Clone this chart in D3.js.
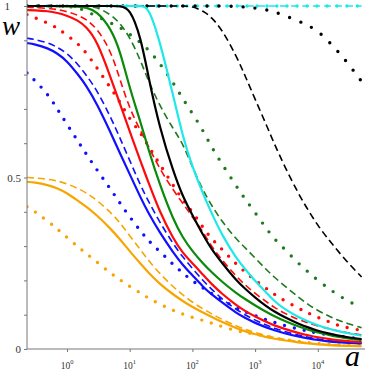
<!DOCTYPE html>
<html><head><meta charset="utf-8">
<script src="https://cdn.jsdelivr.net/npm/d3@7"></script>
<style>body{margin:0;background:#fff}svg{display:block}</style>
</head><body><svg id="c" width="365" height="374"></svg>
<script>
const aGrid = [0.23,0.3,0.5,0.7,1,1.5,2,3,5,7,10,15,20,30,50,70,100,150,200,300,500,700,1000,1500,2000,3000,5000,7000,10000,15000,20000,30000,50000];

const orangeSolid  = [0.487,0.486,0.478,0.469,0.455,0.432,0.416,0.39,0.35,0.32,0.285,0.248,0.222,0.19,0.158,0.14,0.122,0.106,0.094,0.078,0.061,0.051,0.043,0.035,0.03,0.025,0.019,0.016,0.013,0.011,0.01,0.009,0.008];
const orangeDashed = [0.5,0.499,0.495,0.49,0.482,0.468,0.456,0.434,0.398,0.368,0.33,0.288,0.258,0.22,0.18,0.158,0.136,0.116,0.103,0.086,0.067,0.057,0.048,0.039,0.034,0.028,0.021,0.018,0.015,0.013,0.012,0.01,0.009];
const orangeDotted = [0.415,0.402,0.372,0.35,0.325,0.298,0.279,0.254,0.22,0.202,0.182,0.163,0.148,0.131,0.112,0.102,0.092,0.083,0.076,0.065,0.053,0.048,0.044,0.037,0.032,0.027,0.022,0.019,0.016,0.014,0.013,0.011,0.01];

const blueSolid  = [0.892,0.889,0.877,0.862,0.84,0.8,0.77,0.715,0.63,0.57,0.51,0.44,0.395,0.34,0.28,0.245,0.215,0.18,0.16,0.135,0.105,0.09,0.076,0.063,0.055,0.045,0.036,0.031,0.026,0.022,0.02,0.018,0.016];
const blueDashed = [0.906,0.903,0.893,0.88,0.862,0.83,0.8,0.755,0.675,0.615,0.55,0.475,0.43,0.37,0.305,0.268,0.235,0.198,0.175,0.145,0.115,0.099,0.084,0.07,0.061,0.05,0.04,0.034,0.029,0.024,0.022,0.019,0.017];
const blueDotted = [0.805,0.785,0.742,0.7,0.655,0.605,0.57,0.522,0.465,0.425,0.385,0.343,0.315,0.285,0.245,0.222,0.198,0.177,0.162,0.143,0.12,0.108,0.097,0.085,0.078,0.068,0.058,0.052,0.046,0.041,0.038,0.034,0.03];

const redSolid  = [0.988,0.988,0.985,0.98,0.972,0.958,0.94,0.9,0.79,0.715,0.635,0.545,0.485,0.4,0.32,0.28,0.25,0.215,0.19,0.16,0.128,0.11,0.095,0.079,0.069,0.058,0.046,0.04,0.034,0.029,0.026,0.023,0.02];
const redDashed = [0.997,0.996,0.993,0.99,0.984,0.973,0.962,0.935,0.87,0.785,0.7,0.635,0.59,0.525,0.462,0.425,0.385,0.34,0.3,0.258,0.212,0.186,0.162,0.138,0.122,0.103,0.085,0.076,0.067,0.059,0.053,0.047,0.041];
const redDotted = [0.975,0.967,0.95,0.936,0.915,0.89,0.865,0.82,0.76,0.72,0.67,0.63,0.59,0.54,0.475,0.435,0.4,0.352,0.322,0.29,0.247,0.224,0.2,0.177,0.16,0.14,0.118,0.105,0.092,0.08,0.07,0.062,0.054];

const greenSolid  = [1,1,1,1,0.999,0.998,0.996,0.985,0.935,0.87,0.76,0.66,0.58,0.48,0.375,0.325,0.285,0.248,0.225,0.195,0.163,0.145,0.127,0.108,0.096,0.081,0.065,0.056,0.048,0.041,0.036,0.031,0.026];
const greenDashed = [1,1,1,1,1,1,1,0.997,0.975,0.95,0.91,0.84,0.78,0.71,0.64,0.6,0.53,0.46,0.42,0.37,0.32,0.295,0.265,0.232,0.21,0.183,0.15,0.13,0.112,0.096,0.085,0.074,0.062];
const greenDotted = [1,1,1,1,0.999,0.995,0.985,0.97,0.95,0.938,0.918,0.893,0.872,0.834,0.775,0.73,0.687,0.635,0.59,0.538,0.475,0.436,0.398,0.352,0.322,0.29,0.248,0.225,0.2,0.176,0.16,0.14,0.12];

const blackSolid  = [1,1,1,1,1,1,1,1,1,1,0.995,0.91,0.79,0.645,0.515,0.445,0.39,0.33,0.292,0.25,0.2,0.175,0.15,0.125,0.11,0.092,0.073,0.063,0.053,0.045,0.04,0.034,0.029];
const blackDashed = [1,1,1,1,1,1,1,1,1,1,1,1,1,1,1,1,0.999,0.985,0.968,0.93,0.855,0.795,0.728,0.655,0.6,0.53,0.45,0.405,0.36,0.318,0.29,0.252,0.21];
const blackDotted = [1,1,1,1,1,1,1,1,1,1,1,1,1,1,1,1,1,1,1,1,0.999,0.997,0.994,0.989,0.983,0.972,0.956,0.943,0.928,0.896,0.872,0.834,0.78];

const cyanSolid  = [1,1,1,1,1,1,1,1,1,1,1,1,0.998,0.9,0.735,0.62,0.53,0.45,0.398,0.33,0.265,0.232,0.198,0.165,0.14,0.115,0.092,0.08,0.069,0.059,0.053,0.046,0.039];
const cyanDashed = [1,1,1,1,1,1,1,1,1,1,1,1,1,1,1,1,1,1,1,1,1,1,1,1,1,1,1,1,1,1,1,1,1];
const cyanDotted = [1,1,1,1,1,1,1,1,1,1,1,1,1,1,1,1,1,1,1,1,1,1,1,1,1,1,1,1,1,1,1,1,1];

const xTicks = [1,10,100,1000,10000];
const xTickExps = ["0","1","2","3","4"];
const yTicks = [0,0.1,0.2,0.3,0.4,0.5,0.6,0.7,0.8,0.9,1];
const yLabelled = {"0":"0","0.5":"0.5","1":"1"};

const ORANGE="#f7a500", BLUE="#1010ff", RED="#ff0a0a", GREEN="#0a8a0a", BLACK="#000", CYAN="#1ee8e8";
const series = [
  {v:cyanDotted, c:CYAN, s:"dotted"},
  {v:cyanDashed, c:CYAN, s:"dashed"},
  {v:blackDotted, c:BLACK, s:"dotted", gap:12},
  {v:blackDashed, c:BLACK, s:"dashed"},
  {v:orangeDotted, c:ORANGE, s:"dotted"},
  {v:orangeDashed, c:ORANGE, s:"dashed"},
  {v:orangeSolid, c:ORANGE, s:"solid"},
  {v:blueDotted, c:BLUE, s:"dotted"},
  {v:blueDashed, c:BLUE, s:"dashed"},
  {v:blueSolid, c:BLUE, s:"solid"},
  {v:redDotted, c:RED, s:"dotted"},
  {v:redDashed, c:RED, s:"dashed"},
  {v:redSolid, c:RED, s:"solid"},
  {v:greenDotted, c:"#1f7a1f", s:"dotted", gap:11},
  {v:greenDashed, c:"#1f7a1f", s:"dashed"},
  {v:greenSolid, c:GREEN, s:"solid"},
  {v:cyanSolid, c:CYAN, s:"solid"},
  {v:blackSolid, c:BLACK, s:"solid"}
];

const svg = d3.select("#c");
svg.append("rect").attr("width",365).attr("height",374).attr("fill","#fff");
const x = d3.scaleLog().domain([0.23,56000]).range([27,364.7]);
const y = d3.scaleLinear().domain([0,1]).range([349,6]);

svg.append("clipPath").attr("id","clip").append("rect").attr("x",27).attr("y",0).attr("width",340).attr("height",349);

const line = d3.line().x((d,i)=>x(aGrid[i])).y(d=>y(d)).curve(d3.curveBasis);
const g = svg.append("g").attr("clip-path","url(#clip)");
series.forEach(sr=>{
  const p = g.append("path").attr("d",line(sr.v)).attr("fill","none").attr("stroke",sr.c);
  if(sr.s==="solid") p.attr("stroke-width",2.2);
  else if(sr.s==="dashed") p.attr("stroke-width",1.6).attr("stroke-dasharray","7,4");
  else p.attr("stroke-width",3.4).attr("stroke-linecap","round").attr("stroke-dasharray","0,"+(sr.gap||10));
});

// axes
const yAxis = svg.append("g").attr("transform","translate(27,0)")
  .call(d3.axisLeft(y).tickValues(yTicks).tickSize(3).tickPadding(3)
    .tickFormat(d=>yLabelled[String(+d.toFixed(1))]||""));
const xAxis = svg.append("g").attr("transform","translate(0,349)")
  .call(d3.axisBottom(x).tickValues(xTicks).tickSize(3).tickFormat(""));
[yAxis,xAxis].forEach(ax=>{
  ax.select(".domain").attr("stroke","#777").attr("stroke-width",1);
  ax.selectAll(".tick line").attr("stroke","#777");
  ax.selectAll("text").attr("font-family","Liberation Serif").attr("font-size",11).attr("fill","#333");
});
yAxis.select(".domain").attr("d","M-0,349V0");
xAxis.select(".domain").attr("d","M27,0H365");
yAxis.selectAll(".tick").filter(d=>d===1).select("text").attr("x",-17);

xTicks.forEach((t,i)=>{
  const tx = svg.append("text").attr("x",x(t)).attr("y",368.5).attr("text-anchor","middle")
    .attr("font-family","Liberation Serif").attr("font-size",9.5).attr("fill","#333");
  tx.append("tspan").text("10");
  tx.append("tspan").attr("dy",-5).attr("font-size",6.5).text(xTickExps[i]);
});

svg.append("text").attr("x",2).attr("y",35).attr("font-family","Liberation Serif").attr("font-style","italic")
  .attr("font-size",27).attr("fill","#000").text("w");
svg.append("text").attr("x",345).attr("y",366).attr("font-family","Liberation Serif").attr("font-style","italic")
  .attr("font-size",30).attr("fill","#000").text("a");
</script></body></html>
